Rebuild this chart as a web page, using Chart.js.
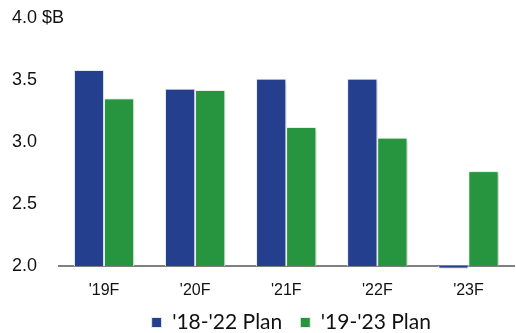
<!DOCTYPE html>
<html>
<head>
<meta charset="utf-8">
<script src="https://cdn.jsdelivr.net/npm/chart.js@4/dist/chart.umd.min.js"></script>
<style>
  body { margin: 0; background: #fff; }
  #wrap { width: 516px; height: 333px; }
</style>
</head>
<body>
<div id="wrap"><canvas id="planChart"></canvas></div>
<script>
// Forecast years and the two plan series ($B)
const categories = ["'19F", "'20F", "'21F", "'22F", "'23F"];
const plan1822 = [3.58, 3.43, 3.51, 3.51, 1.98];
const plan1923 = [3.35, 3.42, 3.12, 3.035, 2.765];
const yTicks = [2.0, 2.5, 3.0, 3.5, 4.0];

const blue = '#243f8e';
const green = '#27943f';

// shadow pass: paint every bar once with a drop shadow (in dataset order),
// then the normal draw repaints the bars cleanly on top
const barShadow = {
  id: 'barShadow',
  afterLayout(chart) {
    // legend sits a little right of the plot centre
    chart.legend.left += 10;
  },
  beforeDatasetsDraw(chart) {
    const ctx = chart.ctx;
    ctx.save();
    ctx.shadowColor = 'rgba(0,0,0,0.35)';
    ctx.shadowBlur = 4;
    ctx.shadowOffsetX = 3;
    ctx.shadowOffsetY = 2;
    chart.data.datasets.forEach((ds, i) => {
      chart.getDatasetMeta(i).data.forEach((bar) => bar.draw(ctx));
    });
    ctx.restore();
  }
};

const ctx = document.getElementById('planChart').getContext('2d');
const planChart = new Chart(ctx, {
  type: 'bar',
  data: {
    labels: categories,
    datasets: [{
      label: "'18-'22 Plan",
      data: plan1822,
      backgroundColor: blue,
      borderColor: '#e4e9f2',
      borderWidth: 1,
      categoryPercentage: 0.66,
      barPercentage: 1.0,
      base: 2,
      clip: false
    }, {
      label: "'19-'23 Plan",
      data: plan1923,
      backgroundColor: green,
      borderColor: '#e4f0e6',
      borderWidth: 1,
      categoryPercentage: 0.66,
      barPercentage: 1.0,
      base: 2,
      clip: false
    }]
  },
  options: {
    responsive: true,
    maintainAspectRatio: false,
    animation: false,
    // bottom padding is negative so the legend's lower padding falls off the canvas
    layout: { padding: { top: 18, left: 12, right: 2, bottom: -10 } },
    scales: {
      x: {
        afterFit: (scale) => { scale.height = 28; },
        grid: { display: false },
        border: { display: true, color: '#808080', width: 2 },
        // mirrored so the labels are not clipped to the short axis box
        ticks: { mirror: true, padding: -34, color: '#111', font: { family: 'Liberation Sans', size: 16 } }
      },
      y: {
        min: 2,
        max: 4,
        afterBuildTicks: (scale) => { scale.ticks = yTicks.map(v => ({ value: v })); },
        afterFit: (scale) => { scale.width = 46.5; },
        grid: { display: false },
        border: { display: false },
        ticks: {
          mirror: true,
          padding: -46.5,
          color: '#111',
          font: { family: 'Liberation Sans', size: 18 },
          callback: (v) => v === 4 ? '4.0 $B' : v.toFixed(1)
        }
      }
    },
    plugins: {
      legend: {
        position: 'bottom',
        fullSize: false,
        labels: {
          boxWidth: 10,
          boxHeight: 10,
          padding: 18,
          color: '#111',
          font: { family: 'Lato', size: 21 }
        }
      },
      tooltip: { enabled: false }
    }
  },
  plugins: [barShadow]
});
</script>
</body>
</html>
